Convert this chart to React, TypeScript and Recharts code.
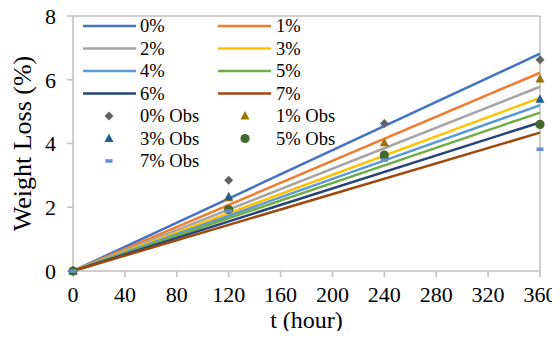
import React from 'react';
import {
  ComposedChart,
  Line,
  Scatter,
  XAxis,
  YAxis,
  ReferenceLine,
} from 'recharts';

// model lines: value at t = 0 and t = 360 h
const modelTimes = [0, 360];
const modelNames = ['0%', '1%', '2%', '3%', '4%', '5%', '6%', '7%'];
const modelEnds = [6.82, 6.22, 5.78, 5.43, 5.2, 4.97, 4.66, 4.34];
const modelColors = ['#4472C4', '#ED7D31', '#A5A5A5', '#FFC000', '#5B9BD5', '#70AD47', '#264478', '#9E480E'];

// observed points
const obsTimes = [0, 120, 240, 360];
const obsNames = ['0% Obs', '1% Obs', '3% Obs', '5% Obs', '7% Obs'];
const obs0 = [0, 2.85, 4.63, 6.63];
const obs1 = [0, 2.3, 4.02, 6.02];
const obs3 = [0, 2.33, 3.62, 5.39];
const obs5 = [0, 1.93, 3.64, 4.6];
const obs7 = [0, 1.88, 3.48, 3.82];
const obsColors = ['#636363', '#997300', '#255E91', '#43682B', '#698ED0'];
const obsShapes = ['diamond', 'triangle', 'triangle', 'circle', 'dash'];

const xTicks = [0, 40, 80, 120, 160, 200, 240, 280, 320, 360];
const yTicks = [0, 2, 4, 6, 8];

const axisColor = '#BFBFBF';
const font = "'Liberation Serif', 'Times New Roman', serif";

const modelSeries = modelNames.map((name, i) => ({
  name,
  color: modelColors[i],
  data: modelTimes.map((t, j) => ({ x: t, y: j === 0 ? 0 : modelEnds[i] })),
}));

const obsValues = [obs0, obs1, obs3, obs5, obs7];
const obsSeries = obsNames.map((name, i) => ({
  name,
  color: obsColors[i],
  shape: obsShapes[i],
  data: obsTimes.map((t, j) => ({ x: t, y: obsValues[i][j] })),
}));

function Marker({ kind, color, cx, cy }: { kind: string; color: string; cx: number; cy: number }) {
  if (kind === 'diamond') {
    const r = 4.5;
    return <path d={`M${cx},${cy - r}L${cx + r},${cy}L${cx},${cy + r}L${cx - r},${cy}Z`} fill={color} />;
  }
  if (kind === 'triangle') {
    return <path d={`M${cx},${cy - 5}L${cx + 4.5},${cy + 3.5}L${cx - 4.5},${cy + 3.5}Z`} fill={color} />;
  }
  if (kind === 'circle') {
    return <circle cx={cx} cy={cy} r={4.6} fill={color} />;
  }
  return <rect x={cx - 3.5} y={cy - 1.8} width={7} height={3.6} fill={color} />;
}

function LegendBox() {
  const rowY = (r: number) => 26 + r * 22.5;
  const items: React.ReactNode[] = [];
  modelSeries.forEach((s, i) => {
    const col = i % 2;
    const row = Math.floor(i / 2);
    const x0 = col ? 218 : 83;
    const tx = col ? 276 : 140;
    const y = rowY(row);
    items.push(<line key={`l${i}`} x1={x0} x2={x0 + 53} y1={y} y2={y} stroke={s.color} strokeWidth={2.5} />);
    items.push(
      <text key={`t${i}`} x={tx} y={y + 6} style={{ fontSize: 18.5, fontFamily: font }} fill="#000">
        {s.name}
      </text>
    );
  });
  obsSeries.forEach((s, i) => {
    const col = i % 2;
    const row = 4 + Math.floor(i / 2);
    const mx = col ? 245 : 109;
    const tx = col ? 276 : 140;
    const y = rowY(row);
    items.push(
      <g key={`m${i}`}>
        <Marker kind={s.shape} color={s.color} cx={mx} cy={y} />
      </g>
    );
    items.push(
      <text key={`o${i}`} x={tx} y={y + 6} style={{ fontSize: 18.5, fontFamily: font }} fill="#000">
        {s.name}
      </text>
    );
  });
  return (
    <svg width={340} height={180} style={{ position: 'absolute', left: 0, top: 0 }}>
      {items}
    </svg>
  );
}

export default function App() {
  return (
    <div style={{ margin: -8, width: 560, height: 339, background: '#fff', position: 'relative' }}>
      <ComposedChart width={560} height={339} margin={{ top: 16, right: 20, left: 0, bottom: 0 }}>
        <XAxis
          dataKey="x"
          type="number"
          domain={[0, 360]}
          ticks={xTicks}
          allowDuplicatedCategory={false}
          stroke={axisColor}
          strokeWidth={1.5}
          tickSize={6}
          tickMargin={9}
          tick={{ fill: '#000', fontSize: 22, style: { fontFamily: font } }}
          height={68}
          label={{ value: 't (hour)', position: 'insideBottom', offset: 11, fill: '#000', fontSize: 24, style: { fontFamily: font } }}
        />
        <YAxis
          type="number"
          domain={[0, 8]}
          ticks={yTicks}
          stroke={axisColor}
          strokeWidth={1.5}
          tickSize={6}
          tickMargin={11}
          tick={{ fill: '#000', fontSize: 22, style: { fontFamily: font } }}
          width={73}
          label={{
            value: 'Weight Loss (%)',
            angle: -90,
            position: 'insideLeft',
            offset: 22,
            fill: '#000',
            fontSize: 26,
            style: { textAnchor: 'middle', fontFamily: font },
          }}
        />
        <ReferenceLine y={8} stroke={axisColor} strokeWidth={1.5} />
        <ReferenceLine x={360} stroke={axisColor} strokeWidth={1.5} />
        {modelSeries.map((s) => (
          <Line
            key={s.name}
            data={s.data}
            dataKey="y"
            name={s.name}
            stroke={s.color}
            strokeWidth={2.5}
            dot={false}
            isAnimationActive={false}
          />
        ))}
        {obsSeries.map((s) => (
          <Scatter
            key={s.name}
            data={s.data}
            dataKey="y"
            name={s.name}
            fill={s.color}
            isAnimationActive={false}
            shape={(p: any) => <Marker kind={s.shape} color={s.color} cx={p.cx} cy={p.cy} />}
          />
        ))}
      </ComposedChart>
      <LegendBox />
    </div>
  );
}
